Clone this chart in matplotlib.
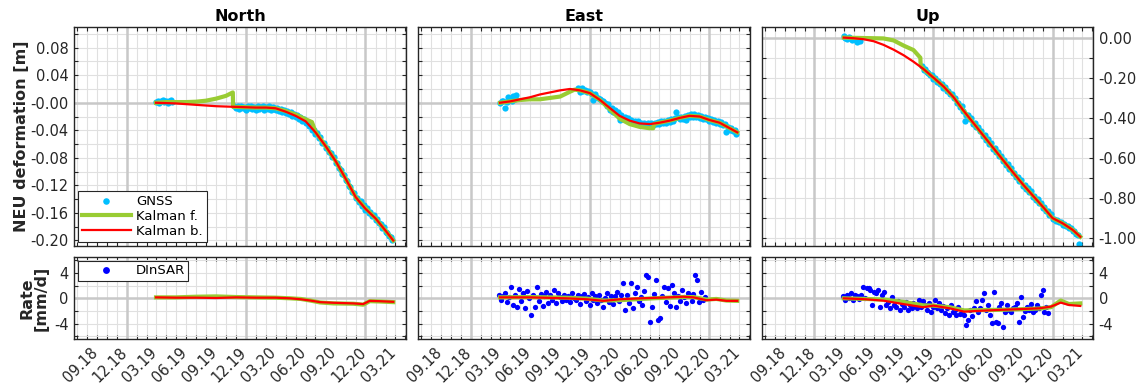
import numpy as np
import matplotlib
matplotlib.use("Agg")
import matplotlib.pyplot as plt
import matplotlib.dates as mdates
import matplotlib.transforms as mtrans
from matplotlib.lines import Line2D
from matplotlib.ticker import MultipleLocator, FormatStrFormatter

plt.rcParams['font.family'] = ['DejaVu Sans']
plt.rcParams['axes.unicode_minus'] = False

# ---------------- data ----------------
TITLES = ["North", "East", "Up"]
YEAR_LINES = ["2018-12-01", "2019-12-01", "2020-12-01"]

GNSS_DATES = """2019-03-01 2019-03-06 2019-03-11 2019-03-16 2019-03-21 2019-03-26 2019-04-01 2019-04-06 2019-04-11 2019-04-16 2019-04-20
2019-10-26
2019-11-01 2019-11-06 2019-11-11 2019-11-16 2019-11-21 2019-11-26
2019-12-01 2019-12-06 2019-12-11 2019-12-16 2019-12-21 2019-12-26
2020-01-01 2020-01-06 2020-01-11 2020-01-16 2020-01-21 2020-01-26
2020-02-01 2020-02-06 2020-02-11 2020-02-16 2020-02-21 2020-02-26
2020-03-01 2020-03-06 2020-03-11 2020-03-16 2020-03-21 2020-03-26
2020-04-01 2020-04-06 2020-04-11 2020-04-16 2020-04-21 2020-04-26
2020-05-01 2020-05-06 2020-05-11 2020-05-16 2020-05-21 2020-05-26
2020-06-01 2020-06-06 2020-06-11 2020-06-16 2020-06-21 2020-06-26
2020-07-01 2020-07-06 2020-07-11 2020-07-16 2020-07-21 2020-07-26
2020-08-01 2020-08-06 2020-08-11 2020-08-16 2020-08-21 2020-08-26
2020-09-01 2020-09-06 2020-09-11 2020-09-16 2020-09-21 2020-09-26
2020-10-01 2020-10-06 2020-10-11 2020-10-16 2020-10-21 2020-10-26
2020-11-01 2020-11-06 2020-11-11 2020-11-16 2020-11-21 2020-11-26
2020-12-01 2020-12-06 2020-12-11 2020-12-16 2020-12-21 2020-12-26
2021-01-01 2021-01-06 2021-01-11 2021-01-16 2021-01-21 2021-01-26
2021-02-01 2021-02-06 2021-02-11 2021-02-16 2021-02-21""".split()

GNSS_NORTH = [0.001, 0.003, 0.000, 0.002, 0.004, 0.001, 0.003, 0.000, 0.002, 0.004, 0.001,
              -0.004,
              -0.008, -0.005, -0.009, -0.004, -0.008, -0.006,
              -0.010, -0.005, -0.008, -0.004, -0.009, -0.006,
              -0.010, -0.005, -0.009, -0.006, -0.004, -0.010,
              -0.006, -0.009, -0.005, -0.010, -0.006, -0.009,
              -0.010, -0.007, -0.012, -0.009, -0.013, -0.010,
              -0.015, -0.012, -0.017, -0.014, -0.019, -0.016,
              -0.021, -0.018, -0.023, -0.021, -0.026, -0.024,
              -0.029, -0.028, -0.034, -0.033, -0.040, -0.039,
              -0.045, -0.044, -0.051, -0.050, -0.058, -0.058,
              -0.066, -0.065, -0.072, -0.073, -0.079, -0.079,
              -0.088, -0.088, -0.095, -0.097, -0.103, -0.105,
              -0.112, -0.113, -0.121, -0.122, -0.130, -0.131,
              -0.139, -0.138, -0.144, -0.143, -0.150, -0.149,
              -0.156, -0.153, -0.160, -0.159, -0.164, -0.163,
              -0.170, -0.169, -0.175, -0.176, -0.182, -0.181,
              -0.188, -0.189, -0.194, -0.195, -0.200]
GNSS_EAST = [0.000, 0.002, 0.003, -0.008, 0.001, 0.009, 0.004, 0.002, 0.010, 0.005, 0.011,
             0.021,
             0.016, 0.021, 0.017, 0.019, 0.015, 0.017,
             0.015, 0.012, 0.004, 0.013, 0.008, 0.007,
             0.006, 0.002, 0.003, -0.001, -0.004, -0.002,
             -0.010, -0.007, -0.013, -0.011, -0.016, -0.014,
             -0.025, -0.018, -0.023, -0.021, -0.025, -0.022,
             -0.028, -0.025, -0.029, -0.026, -0.030, -0.027,
             -0.032, -0.029, -0.032, -0.029, -0.033, -0.030,
             -0.033, -0.030, -0.032, -0.029, -0.031, -0.028,
             -0.031, -0.027, -0.030, -0.026, -0.029, -0.025,
             -0.028, -0.024, -0.026, -0.022, -0.014, -0.021,
             -0.024, -0.020, -0.023, -0.019, -0.025, -0.018,
             -0.021, -0.017, -0.020, -0.016, -0.021, -0.018,
             -0.022, -0.019, -0.023, -0.020, -0.024, -0.022,
             -0.027, -0.023, -0.028, -0.025, -0.029, -0.026,
             -0.031, -0.028, -0.033, -0.031, -0.042, -0.035,
             -0.039, -0.036, -0.041, -0.039, -0.045]
GNSS_UP = [0.006, -0.002, -0.008, 0.001, -0.004, -0.012, -0.006, -0.014, -0.022, -0.010, -0.016,
           -0.142,
           -0.163, -0.158, -0.172, -0.174, -0.186, -0.185,
           -0.205, -0.201, -0.219, -0.218, -0.233, -0.231,
           -0.249, -0.246, -0.265, -0.264, -0.282, -0.280,
           -0.303, -0.301, -0.325, -0.324, -0.346, -0.343,
           -0.367, -0.415, -0.386, -0.384, -0.406, -0.403,
           -0.430, -0.427, -0.448, -0.446, -0.467, -0.464,
           -0.491, -0.488, -0.509, -0.507, -0.529, -0.527,
           -0.554, -0.551, -0.572, -0.570, -0.591, -0.588,
           -0.615, -0.612, -0.633, -0.631, -0.653, -0.650,
           -0.677, -0.674, -0.695, -0.693, -0.714, -0.711,
           -0.738, -0.735, -0.754, -0.751, -0.770, -0.767,
           -0.793, -0.790, -0.809, -0.807, -0.827, -0.824,
           -0.849, -0.846, -0.865, -0.863, -0.884, -0.881,
           -0.906, -0.903, -0.912, -0.909, -0.920, -0.917,
           -0.932, -0.929, -0.941, -0.939, -0.951, -0.949,
           -0.965, -0.962, -0.978, -0.985, -1.030]

KB_DATES = ["2019-03-01", "2019-04-01", "2019-05-01", "2019-06-01", "2019-07-01", "2019-08-01",
            "2019-09-01", "2019-10-01", "2019-11-01", "2019-12-01", "2020-01-01", "2020-02-01",
            "2020-03-01", "2020-04-01", "2020-05-01", "2020-06-01", "2020-07-01", "2020-08-01",
            "2020-09-01", "2020-10-01", "2020-11-01", "2020-12-01", "2021-01-01", "2021-02-01",
            "2021-02-24"]
KB_NORTH = [0.000, -0.0005, -0.001, -0.002, -0.003, -0.004, -0.005, -0.0055, -0.006, -0.0065,
            -0.007, -0.007, -0.008, -0.013, -0.019, -0.027, -0.043, -0.063, -0.085, -0.110,
            -0.137, -0.154, -0.168, -0.186, -0.200]
KB_EAST = [0.000, 0.002, 0.005, 0.008, 0.012, 0.015, 0.018, 0.020, 0.018, 0.014,
           0.004, -0.008, -0.019, -0.026, -0.030, -0.031, -0.029, -0.026, -0.022, -0.019,
           -0.020, -0.025, -0.029, -0.037, -0.043]
KB_UP = [0.000, -0.003, -0.008, -0.018, -0.036, -0.060, -0.088, -0.120, -0.157, -0.199,
         -0.243, -0.297, -0.361, -0.424, -0.485, -0.548, -0.609, -0.671, -0.732, -0.787,
         -0.843, -0.900, -0.926, -0.959, -0.993]

KF_NORTH_DATES = ["2019-03-01", "2019-04-01", "2019-05-01", "2019-06-01", "2019-07-01", "2019-08-01",
                  "2019-09-01", "2019-10-01", "2019-10-22", "2019-10-23", "2019-11-01", "2019-12-01",
                  "2020-01-01", "2020-02-01", "2020-03-01", "2020-04-01", "2020-05-01", "2020-06-01",
                  "2020-06-20", "2020-07-01", "2020-08-01", "2020-09-01", "2020-10-01", "2020-11-01",
                  "2020-12-01", "2021-01-01", "2021-02-01", "2021-02-24"]
KF_NORTH = [0.000, 0.001, 0.001, 0.001, 0.0015, 0.003, 0.006, 0.010, 0.015, -0.006, -0.006, -0.0065,
            -0.007, -0.007, -0.008, -0.012, -0.017, -0.024, -0.028, -0.042, -0.063, -0.085, -0.110,
            -0.137, -0.153, -0.168, -0.186, -0.200]
KF_EAST_DATES = ["2019-03-01", "2019-04-01", "2019-05-01", "2019-06-01", "2019-07-01", "2019-08-01",
                 "2019-09-01", "2019-10-01", "2019-10-15", "2019-11-01", "2019-12-01", "2020-01-01",
                 "2020-02-01", "2020-03-01", "2020-04-01", "2020-05-01", "2020-06-01", "2020-06-12",
                 "2020-06-14", "2020-07-01", "2020-08-01", "2020-09-01", "2020-10-01", "2020-11-01",
                 "2020-12-01", "2021-01-01", "2021-02-01", "2021-02-24"]
KF_EAST = [0.000, 0.002, 0.004, 0.005, 0.005, 0.007, 0.009, 0.016, 0.019, 0.018, 0.014, 0.004,
           -0.010, -0.023, -0.031, -0.035, -0.037, -0.037, -0.031, -0.029, -0.026, -0.022, -0.019,
           -0.020, -0.025, -0.029, -0.037, -0.043]
KF_UP_DATES = ["2019-03-01", "2019-04-01", "2019-05-01", "2019-06-01", "2019-07-01", "2019-08-01",
               "2019-09-01", "2019-10-01", "2019-10-22", "2019-10-23", "2019-11-01", "2019-12-01",
               "2020-01-01", "2020-02-01", "2020-03-01", "2020-04-01", "2020-05-01", "2020-06-01",
               "2020-07-01", "2020-08-01", "2020-09-01", "2020-10-01", "2020-11-01", "2020-12-01",
               "2021-01-01", "2021-02-01", "2021-02-24"]
KF_UP = [0.000, -0.001, -0.002, -0.003, -0.004, -0.014, -0.040, -0.062, -0.100, -0.138, -0.157, -0.199,
         -0.243, -0.297, -0.361, -0.424, -0.485, -0.548, -0.609, -0.671, -0.732, -0.787, -0.843, -0.900,
         -0.926, -0.959, -0.993]

# rates [mm/d]
RATE_NORTH_DATES = ["2019-03-01", "2019-05-01", "2019-07-01", "2019-09-01", "2019-11-01", "2020-01-01",
                    "2020-03-01", "2020-04-15", "2020-05-17", "2020-06-15", "2020-07-15", "2020-08-25",
                    "2020-10-25", "2020-11-24", "2020-12-14", "2021-01-13", "2021-02-24"]
RATE_NORTH_KB = [0.15, 0.1, 0.1, 0.05, 0.15, 0.1, 0.1, 0.0, -0.15, -0.35, -0.6, -0.7, -0.8, -0.9, -0.4, -0.45, -0.55]
RATE_NORTH_KF = [0.15, 0.15, 0.25, 0.3, 0.2, 0.15, 0.1, 0.0, -0.1, -0.35, -0.65, -0.8, -0.85, -1.0, -0.45, -0.5, -0.6]

RATE_EAST_DATES = ["2019-03-01", "2019-06-01", "2019-09-20", "2019-11-22", "2020-01-12", "2020-03-01",
                   "2020-05-04", "2020-07-02", "2020-09-12", "2020-10-13", "2020-11-22", "2020-12-22",
                   "2021-01-22", "2021-02-24"]
RATE_EAST_KB = [0.15, 0.15, 0.0, -0.15, -0.4, -0.15, 0.0, 0.1, 0.25, 0.15, -0.3, -0.2, -0.4, -0.4]
RATE_EAST_KF = [0.15, 0.2, 0.1, -0.05, -0.35, -0.3, -0.1, 0.05, 0.2, 0.2, -0.2, -0.1, -0.35, -0.4]

RATE_UP_DATES = ["2019-03-01", "2019-05-08", "2019-07-01", "2019-08-30", "2019-10-30", "2019-12-01",
                 "2020-01-20", "2020-03-05", "2020-05-01", "2020-07-01", "2020-09-01", "2020-10-22",
                 "2020-11-26", "2020-12-26", "2021-01-20", "2021-02-24"]
RATE_UP_KB = [0.0, -0.15, -0.37, -0.9, -1.4, -1.15, -1.57, -2.1, -1.94, -1.8, -1.68, -1.57, -1.3, -0.68, -1.05, -1.2]
RATE_UP_KF = [0.0, -0.1, -0.2, -0.55, -1.1, -1.15, -1.4, -1.9, -1.85, -1.8, -1.7, -1.6, -1.4, -0.35, -0.9, -0.8]

DINSAR_DATES = """2019-02-27 2019-03-05 2019-03-11 2019-03-17 2019-03-23 2019-03-29
2019-04-04 2019-04-10 2019-04-16 2019-04-22 2019-04-28 2019-05-04 2019-05-10 2019-05-16 2019-05-22 2019-05-28
2019-06-03 2019-06-09 2019-06-15 2019-06-21 2019-06-27 2019-07-03 2019-07-09 2019-07-15 2019-07-21 2019-07-27
2019-08-02 2019-08-08 2019-08-14 2019-08-20 2019-08-26 2019-09-01 2019-09-07 2019-09-13 2019-09-19 2019-09-25
2019-10-01 2019-10-07 2019-10-13 2019-10-19 2019-10-25 2019-10-31 2019-11-06 2019-11-12 2019-11-18 2019-11-24
2019-11-30 2019-12-06 2019-12-12 2019-12-18 2019-12-24 2019-12-30 2020-01-05 2020-01-11 2020-01-17 2020-01-23
2020-01-29 2020-02-04 2020-02-10 2020-02-16 2020-02-22 2020-02-28 2020-03-05 2020-03-11 2020-03-17 2020-03-23
2020-03-29 2020-04-04 2020-04-10 2020-04-16 2020-04-22 2020-04-28 2020-05-04 2020-05-10 2020-05-16 2020-05-22
2020-05-28 2020-06-03 2020-06-09 2020-06-15 2020-06-21 2020-06-27 2020-07-03 2020-07-09 2020-07-15 2020-07-21
2020-07-27 2020-08-02 2020-08-08 2020-08-14 2020-08-20 2020-08-26 2020-09-01 2020-09-07 2020-09-13 2020-09-19
2020-09-25 2020-10-01 2020-10-07 2020-10-13 2020-10-19 2020-10-25 2020-10-31 2020-11-06 2020-11-12 2020-11-18""".split()

DINSAR_EAST = [0.6, -0.3, 0.3, 0.8, -0.6, 0.2,
               1.8, -1.0, 0.5, -1.3, 1.5, -0.4, 0.9, -1.6, 1.2, 0.1,
               -2.6, 0.6, -1.3, 1.8, -0.5, 0.7, -1.2, 0.3, 1.0, -0.8,
               0.5, -0.3, 1.3, -0.7, 0.8, 0.2, -0.5, 0.6, -0.2, 0.4,
               -0.6, 0.9, 0.1, -0.3, 0.5, -0.9, 0.3, 0.7, -0.4, 0.2,
               -1.05, 0.8, -0.3, 0.4, -0.7, 0.6, -0.2, -1.3, 0.1, 0.8,
               -0.6, 0.4, -0.9, 0.3, 1.05, -0.4, 0.6, 2.35, -1.8, 0.6,
               -0.8, 2.35, -1.5, 0.9, 1.8, -0.5, 0.2, -1.0, 1.2, 3.65,
               3.4, -3.8, -1.3, 0.7, 2.9, -3.4, -3.1, 0.4, 1.8, -0.6,
               1.55, -1.2, 2.1, 0.8, -1.3, 0.4, -0.5, 1.3, 0.2, -0.8,
               0.9, 0.3, -0.5, 0.7, 3.65, 2.9, -0.6, 1.05, -0.3, 0.2]
DINSAR_UP = [0.3, -0.2, 0.5, 0.1, 0.8, -0.3,
             0.6, 0.4, -0.1, 0.5, 1.8, 0.0, 1.55, 1.7, 1.3, -1.05,
             1.0, 0.78, 1.3, -1.3, 0.5, 1.0, -1.05, -0.6, -1.57, 0.26,
             -1.0, -1.3, -0.5, -1.8, -0.9, -1.3, -0.6, -1.83, -1.0, -1.5,
             -0.8, -1.2, -1.6, -0.26, -1.4, -0.5, -1.1, -1.83, -0.7, -2.1,
             -1.3, -0.26, -1.6, -0.8, -1.9, -1.2, -2.35, -1.5, -2.6, -1.0,
             -2.2, -1.8, -2.6, -1.4, -2.4, -2.35, -2.6, -4.2, -3.4, -1.83,
             -2.8, -1.6, -0.5, -2.1, -1.5, -0.26, 0.78, -1.9, -1.0, -2.6,
             -3.9, 1.04, -3.66, -3.9, -1.3, -0.78, -4.55, -2.2, -1.0, -1.83,
             -2.1, -1.5, -1.4, -0.78, -3.66, 0.26, -2.88, -2.0, -1.3, -1.8,
             -0.9, -2.2, -1.83, -1.0, -1.6, 0.5, 1.3, -2.1, -1.3, -2.3]

# ---------------- style ----------------
DARK = '#262626'
C_GNSS = '#00BFFF'
C_KF = '#99CC33'
C_KB = '#FF0000'
C_DIN = '#0000FF'
XLIM = (np.datetime64('2018-06-23'), np.datetime64('2021-04-04'))


def D(lst):
    return np.array(lst, dtype='datetime64[D]')


W, H = 1143, 389


def rect(l, t, r, b):
    return [l / W, 1 - b / H, (r - l) / W, (b - t) / H]


fig = plt.figure(figsize=(11.43, 3.89), dpi=100)
cols = [(74, 406), (418, 750), (762, 1093)]
top_axes = [fig.add_axes(rect(l, 27, r, 246)) for l, r in cols]
bot_axes = [fig.add_axes(rect(l, 257, r, 339)) for l, r in cols]


def style(ax):
    ax.set_xlim(*XLIM)
    ax.xaxis.set_major_locator(mdates.MonthLocator(bymonth=[3, 6, 9, 12]))
    ax.xaxis.set_minor_locator(mdates.MonthLocator())
    ax.xaxis.set_major_formatter(mdates.DateFormatter('%m.%y'))
    ax.set_axisbelow(True)
    ax.grid(which='both', color='#E0E0E0', lw=0.8)
    for d in YEAR_LINES:
        ax.axvline(np.datetime64(d), color='#C8C8C8', lw=1.8, zorder=1)
    ax.axhline(0, color='#C8C8C8', lw=1.8, zorder=1)
    ax.tick_params(which='both', direction='in', top=True, right=True, length=3,
                   width=0.8, color=DARK, labelcolor=DARK, labelsize=10.5, pad=4)
    for s in ax.spines.values():
        s.set_color(DARK)
        s.set_linewidth(1.0)


gnss = [GNSS_NORTH, GNSS_EAST, GNSS_UP]
kf = [(KF_NORTH_DATES, KF_NORTH), (KF_EAST_DATES, KF_EAST), (KF_UP_DATES, KF_UP)]
kb = [KB_NORTH, KB_EAST, KB_UP]
rates = [(RATE_NORTH_DATES, RATE_NORTH_KB, RATE_NORTH_KF),
         (RATE_EAST_DATES, RATE_EAST_KB, RATE_EAST_KF),
         (RATE_UP_DATES, RATE_UP_KB, RATE_UP_KF)]
dinsar = [None, DINSAR_EAST, DINSAR_UP]

for i, ax in enumerate(top_axes):
    style(ax)
    h1, = ax.plot(D(GNSS_DATES), gnss[i], 'o', ms=4.5, mec='none', color=C_GNSS, zorder=2, label='GNSS')
    h2, = ax.plot(D(kf[i][0]), kf[i][1], '-', lw=3.0, color=C_KF, zorder=3, label='Kalman f.')
    h3, = ax.plot(D(KB_DATES), kb[i], '-', lw=1.6, color=C_KB, zorder=4, label='Kalman b.')
    ax.set_title(TITLES[i], fontsize=11.5, fontweight='bold', pad=4)
    ax.tick_params(labelbottom=False)
    if i < 2:
        ax.set_ylim(-0.208, 0.110)
        ax.yaxis.set_major_locator(MultipleLocator(0.04))
        ax.yaxis.set_minor_locator(MultipleLocator(0.02))
    else:
        ax.set_ylim(-1.039, 0.053)
        ax.yaxis.set_major_locator(MultipleLocator(0.2))
        ax.yaxis.set_minor_locator(MultipleLocator(0.1))
    ax.yaxis.set_major_formatter(FormatStrFormatter('%.2f'))
    if i == 0:
        ax.set_ylabel('NEU deformation [m]', fontsize=11.5, fontweight='bold', color=DARK)
        ax.yaxis.set_label_coords(-0.135, 0.5)
        leg = ax.legend(handles=[h1, h2, h3], loc='lower left', fontsize=9.5, fancybox=False,
                        edgecolor=DARK, framealpha=1, handlelength=3.7, handletextpad=0.4,
                        borderpad=0.3, labelspacing=0.15, borderaxespad=0.3, numpoints=1,
                        markerscale=1.05)
        leg.get_frame().set_linewidth(0.8)
    elif i == 1:
        ax.tick_params(labelleft=False)
    else:
        ax.tick_params(labelleft=False, labelright=True)

for i, ax in enumerate(bot_axes):
    style(ax)
    rd, rkb, rkf = rates[i]
    if dinsar[i] is not None:
        ax.plot(D(DINSAR_DATES), dinsar[i], 'o', ms=3.8, mec='none', color=C_DIN, zorder=2)
    ax.plot(D(rd), rkf, '-', lw=3.0, color=C_KF, zorder=3)
    ax.plot(D(rd), rkb, '-', lw=1.6, color=C_KB, zorder=4)
    ax.set_ylim(-6.4, 6.5)
    ax.yaxis.set_major_locator(MultipleLocator(4))
    ax.yaxis.set_minor_locator(MultipleLocator(2))
    ax.yaxis.set_major_formatter(FormatStrFormatter('%d'))
    if i == 0:
        ax.set_ylabel('Rate\n[mm/d]', fontsize=11.5, fontweight='bold', color=DARK, linespacing=1.0)
        ax.yaxis.set_label_coords(-0.075, 0.5)
        hd = Line2D([], [], ls='None', marker='o', ms=3.8, mec='none', color=C_DIN)
        leg = ax.legend(handles=[hd], labels=['DInSAR'], loc='upper left', fontsize=9.5, fancybox=False,
                        edgecolor=DARK, framealpha=1, handlelength=3.7, handletextpad=0.4,
                        borderpad=0.25, borderaxespad=0.3, numpoints=1, markerscale=1.3)
        leg.get_frame().set_linewidth(0.8)
    elif i == 1:
        ax.tick_params(labelleft=False)
    else:
        ax.tick_params(labelleft=False, labelright=True)

fig.canvas.draw()
shift = mtrans.ScaledTranslation(-7 / 100, 0, fig.dpi_scale_trans)
for ax in bot_axes:
    for lab in ax.get_xticklabels():
        lab.set_rotation(45)
        lab.set_ha('right')
        lab.set_va('top')
        lab.set_rotation_mode('anchor')
        lab.set_transform(lab.get_transform() + shift)

fig.savefig('out.png', dpi=100)
